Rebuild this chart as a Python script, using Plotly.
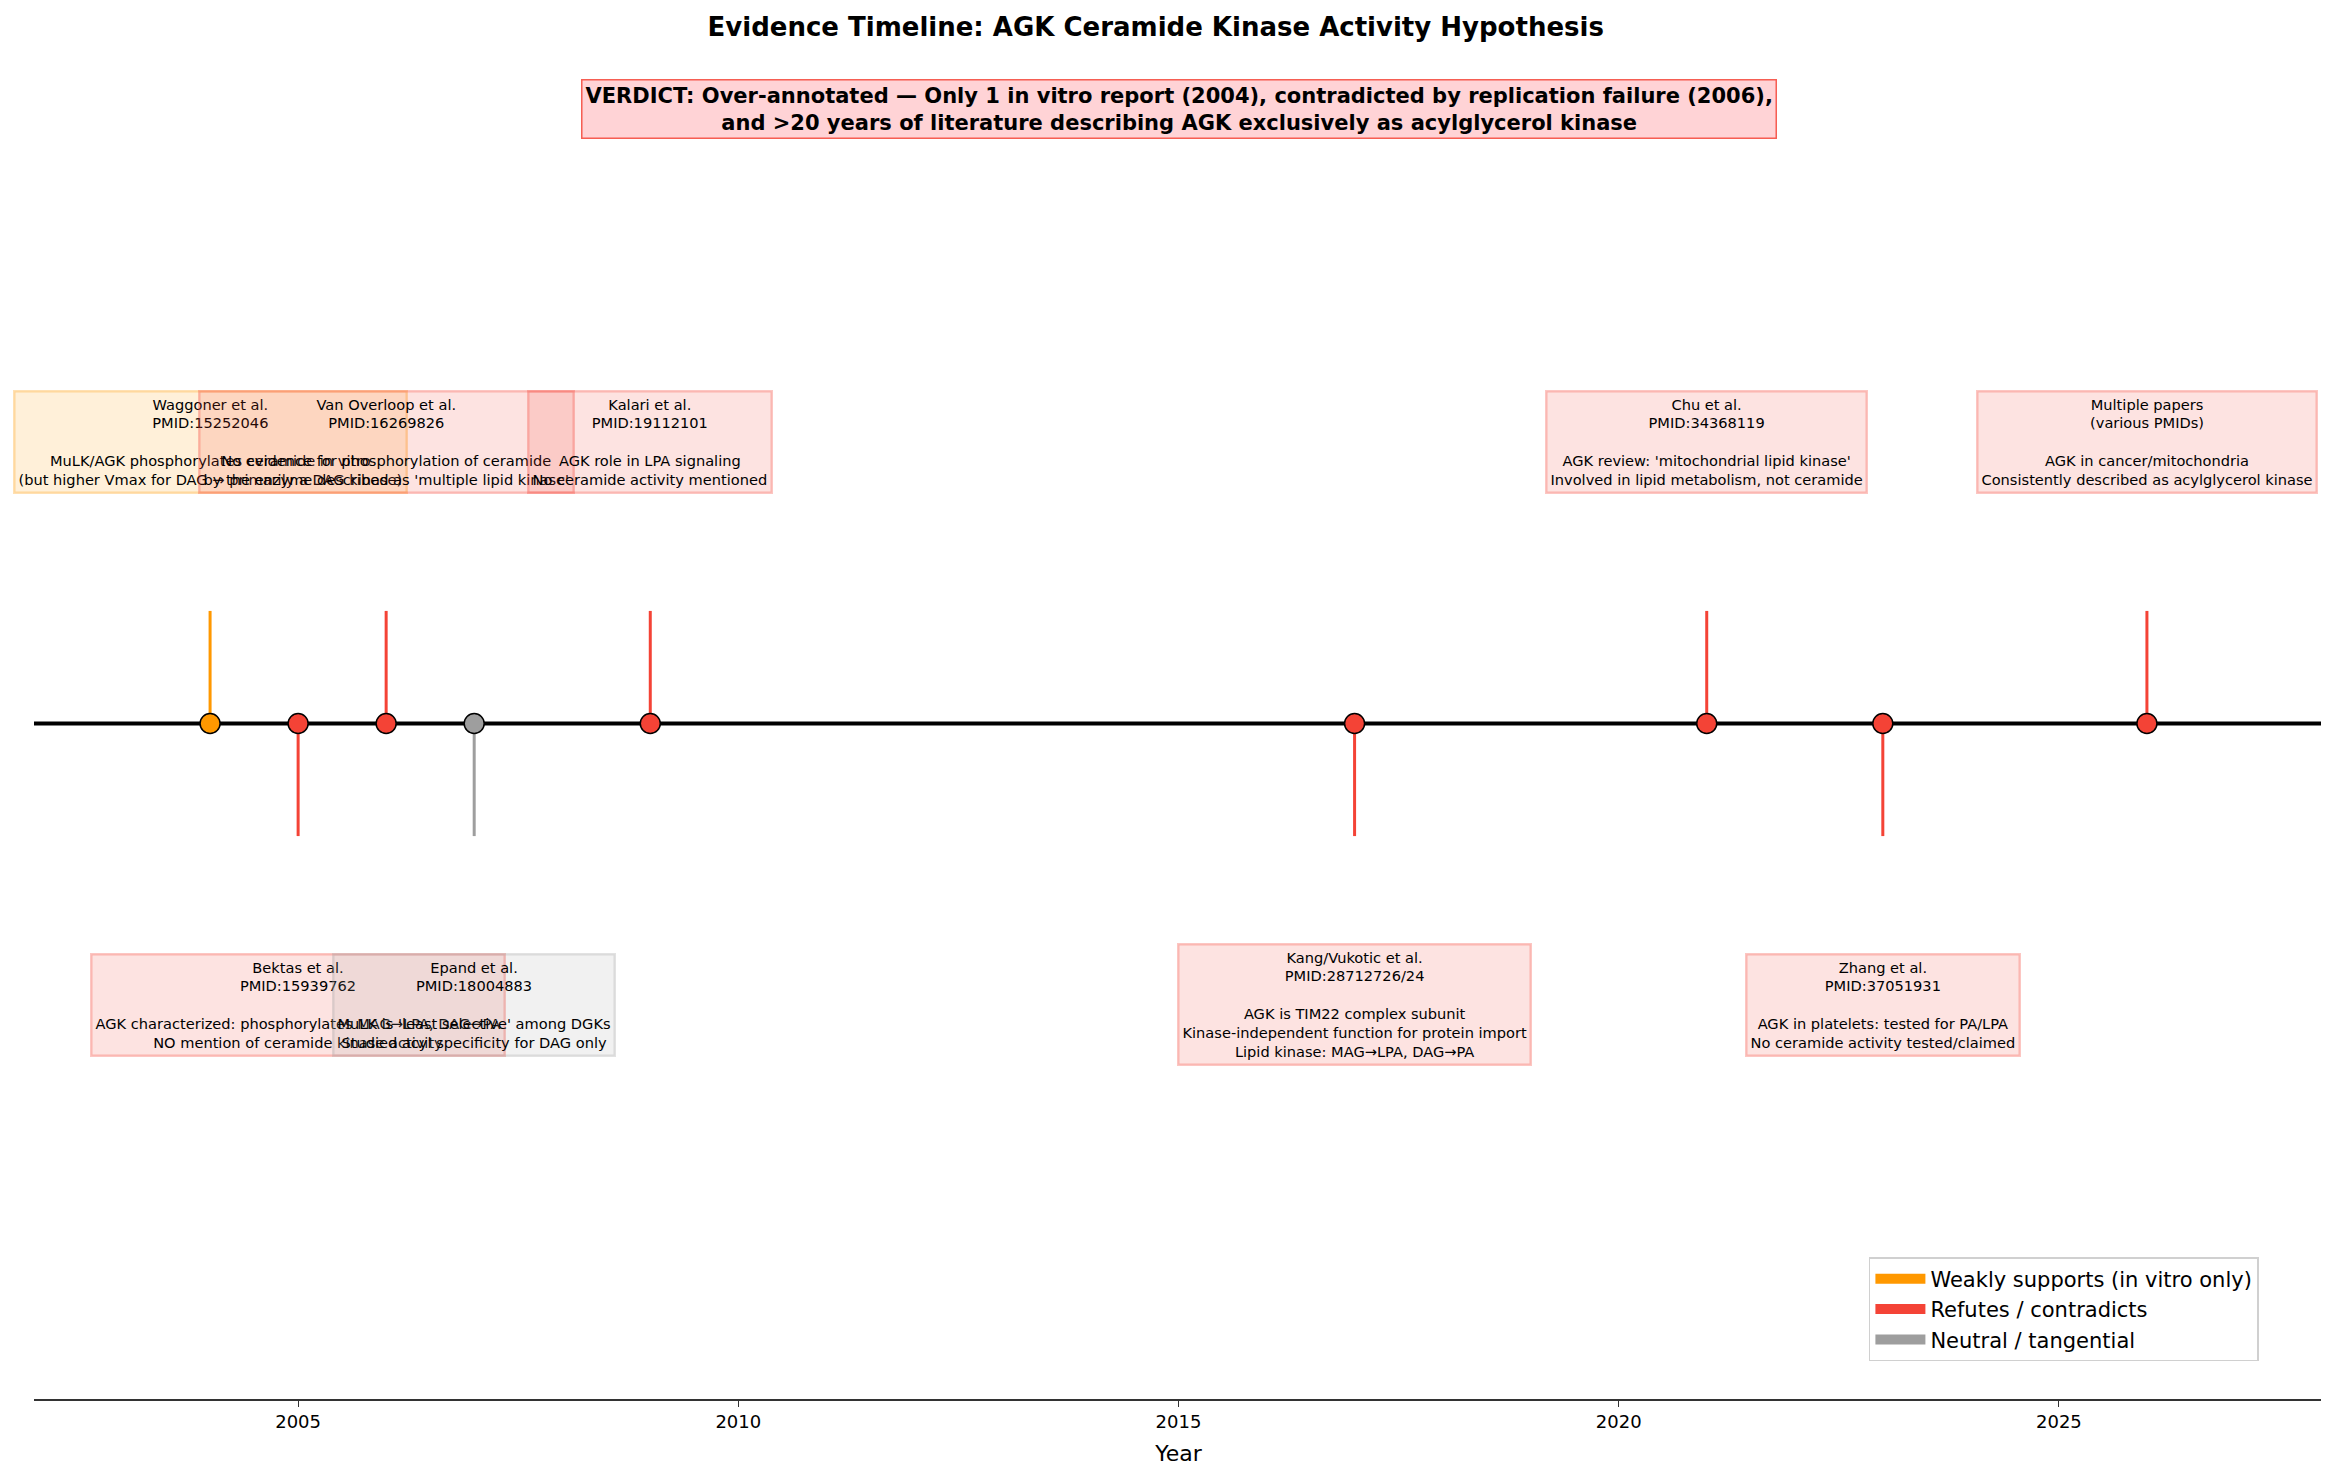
import plotly.graph_objects as go

# evidence timeline data
years = [2004, 2005, 2006, 2007, 2009, 2017, 2021, 2023, 2026]
authors = ["Waggoner et al.", "Bektas et al.", "Van Overloop et al.", "Epand et al.",
           "Kalari et al.", "Kang/Vukotic et al.", "Chu et al.", "Zhang et al.",
           "Multiple papers"]
pmids = ["PMID:15252046", "PMID:15939762", "PMID:16269826", "PMID:18004883",
         "PMID:19112101", "PMID:28712726/24", "PMID:34368119", "PMID:37051931",
         "(various PMIDs)"]
findings = [
    ["MuLK/AGK phosphorylates ceramide in vitro",
     "(but higher Vmax for DAG → primarily a DAG kinase)"],
    ["AGK characterized: phosphorylates MAG→LPA, DAG→PA",
     "NO mention of ceramide kinase activity"],
    ["No evidence for phosphorylation of ceramide",
     "by the enzyme described as 'multiple lipid kinase'"],
    ["MuLK is 'least selective' among DGKs",
     "Studied acyl specificity for DAG only"],
    ["AGK role in LPA signaling",
     "No ceramide activity mentioned"],
    ["AGK is TIM22 complex subunit",
     "Kinase-independent function for protein import",
     "Lipid kinase: MAG→LPA, DAG→PA"],
    ["AGK review: 'mitochondrial lipid kinase'",
     "Involved in lipid metabolism, not ceramide"],
    ["AGK in platelets: tested for PA/LPA",
     "No ceramide activity tested/claimed"],
    ["AGK in cancer/mitochondria",
     "Consistently described as acylglycerol kinase"],
]
stance = ["support", "refute", "refute", "neutral", "refute",
          "refute", "refute", "refute", "refute"]

legend_labels = {"support": "Weakly supports (in vitro only)",
                 "refute": "Refutes / contradicts",
                 "neutral": "Neutral / tangential"}
colors = {"support": (255, 152, 0), "refute": (244, 67, 54), "neutral": (158, 158, 158)}

title = "Evidence Timeline: AGK Ceramide Kinase Activity Hypothesis"
verdict = ("VERDICT: Over-annotated — Only 1 in vitro report (2004), contradicted by replication failure (2006),<br>"
           "and &gt;20 years of literature describing AGK exclusively as acylglycerol kinase")


def rgba(c, a):
    return "rgba(%d,%d,%d,%s)" % (c[0], c[1], c[2], a)


fig = go.Figure()

annotations = []
for i, yr in enumerate(years):
    side = 1 if i % 2 == 0 else -1
    c = colors[stance[i]]
    # stem
    fig.add_trace(go.Scatter(x=[yr, yr], y=[0, 0.5 * side], mode="lines",
                             line=dict(color=rgba(c, 1), width=3),
                             showlegend=False, hoverinfo="skip"))
    txt = "<br>".join([authors[i], pmids[i], ""] + findings[i])
    annotations.append(dict(
        x=yr, y=1.25 * side, xref="x", yref="y", text=txt, showarrow=False,
        align="center", xanchor="center", yanchor="middle",
        font=dict(family="DejaVu Sans", size=14.6, color="black"),
        bgcolor=rgba(c, 0.15), bordercolor=rgba(c, 0.3), borderwidth=2.5, borderpad=3))

# markers on timeline
fig.add_trace(go.Scatter(
    x=years, y=[0] * len(years), mode="markers",
    marker=dict(size=20, color=[rgba(colors[s], 1) for s in stance],
                line=dict(color="black", width=1.5)),
    showlegend=False, hoverinfo="skip"))

for key in ["support", "refute", "neutral"]:
    fig.add_trace(go.Scatter(x=[None], y=[None], mode="lines", name=legend_labels[key],
                             line=dict(color=rgba(colors[key], 1), width=16)))

annotations.append(dict(
    x=0.5, y=0.955, xref="paper", yref="paper", text=verdict, showarrow=False,
    align="center", xanchor="center", yanchor="middle",
    font=dict(family="DejaVu Sans", size=21, color="black", weight="bold"),
    bgcolor="#FFD3D6", bordercolor="rgba(244,67,54,0.85)", borderwidth=1.5, borderpad=3))

fig.add_shape(type="line", xref="paper", yref="y", x0=0, x1=1, y0=0, y1=0,
              line=dict(color="black", width=4), layer="below")

fig.update_layout(
    width=2321, height=1475,
    plot_bgcolor="white", paper_bgcolor="white",
    margin=dict(l=26, r=6, t=40, b=84),
    font=dict(family="DejaVu Sans", color="black"),
    title=dict(text=title, x=0.4945, xref="container", y=0.987, yanchor="middle",
               font=dict(size=26, weight="bold", family="DejaVu Sans")),
    annotations=annotations,
    legend=dict(x=0.972, y=0.028, xanchor="right", yanchor="bottom",
                bgcolor="white", bordercolor="#D0D0D0", borderwidth=1.5,
                itemwidth=50, font=dict(size=21, family="DejaVu Sans")),
)
fig.update_xaxes(range=[2002, 2028], tickvals=[2005, 2010, 2015, 2020, 2025],
                 showgrid=False, zeroline=False, showline=True, linecolor="#333333",
                 linewidth=1.5, ticks="outside", ticklen=6, tickcolor="#333333",
                 tickfont=dict(size=18), title=dict(text="Year", font=dict(size=22), standoff=14))
fig.update_yaxes(range=[-3, 3], visible=False, showgrid=False, zeroline=False)

fig.write_html("out.html")
